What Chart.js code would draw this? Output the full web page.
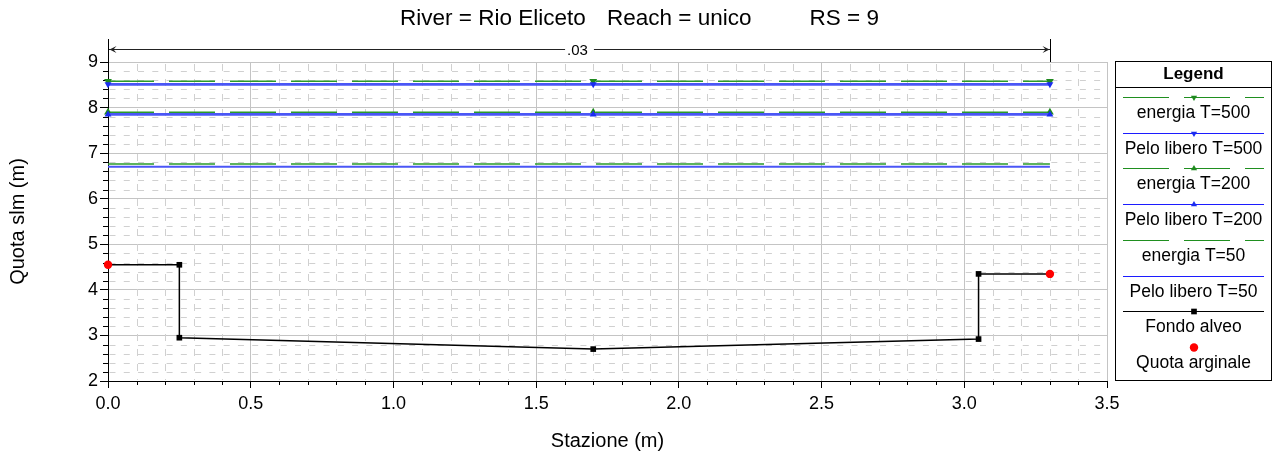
<!DOCTYPE html>
<html>
<head>
<meta charset="utf-8">
<script src="https://cdn.jsdelivr.net/npm/chart.js@4.4.1/dist/chart.umd.min.js"></script>
<style>
  html, body { margin: 0; padding: 0; background: #ffffff; }
  #wrap { position: relative; width: 1276px; height: 459px; }
</style>
</head>
<body>
<div id="wrap"><canvas id="xs"></canvas></div>
<script>
// Cross section RS 9 – Rio Eliceto, reach "unico"

// Ground profile (station, elevation)
const stations = [0, 0.25, 0.25, 1.70, 3.05, 3.05, 3.30];
const bedElevations = [4.55, 4.55, 2.95, 2.70, 2.92, 4.35, 4.35];

// Bank tops
const bankStations = [0, 3.30];
const bankElevations = [4.55, 4.35];

// Water surface and energy grade for each return period
const wsStations = [0, 1.70, 3.30];
const energyT500 = [8.58, 8.58, 8.58];
const wsT500 = [8.51, 8.51, 8.51];
const energyT200 = [7.90, 7.90, 7.90];
const wsT200 = [7.85, 7.85, 7.85];
const energyT50 = [6.76, 6.76, 6.76];
const wsT50 = [6.70, 6.70, 6.70];

// Manning's n over the section
const manningBreaks = [0, 3.30];
const manningLabels = ['.03'];

// Axis ticks
const xTickValues = [0, 0.5, 1.0, 1.5, 2.0, 2.5, 3.0, 3.5];
const xTickLabels = ['0.0', '0.5', '1.0', '1.5', '2.0', '2.5', '3.0', '3.5'];
const yTickValues = [2, 3, 4, 5, 6, 7, 8, 9];
const yTickLabels = ['2', '3', '4', '5', '6', '7', '8', '9'];

const titleParts = ['River = Rio Eliceto', 'Reach = unico', 'RS = 9'];
const legendLabels = ['energia T=500', 'Pelo libero T=500', 'energia T=200', 'Pelo libero T=200',
                      'energia T=50', 'Pelo libero T=50', 'Fondo alveo', 'Quota arginale'];

const FONT = '"Liberation Sans", Arial, Helvetica, sans-serif';
const GREEN = '#2a9a2a';
const BLUE = '#4a56f6';

const pts = (xs, ys) => xs.map((x, i) => ({ x: x, y: ys[i] }));

const lineBase = { showLine: true, tension: 0, clip: false, pointBorderWidth: 0, pointHoverRadius: 0 };

const datasets = [
  { ...lineBase, label: 'Quota arginale', data: pts(bankStations, bankElevations), showLine: false,
    pointStyle: 'circle', pointRadius: 4.2, pointBackgroundColor: '#ff0000', borderColor: '#ff0000' },
  { ...lineBase, label: 'Fondo alveo', data: pts(stations, bedElevations), borderColor: '#000000',
    borderWidth: 1.5, pointStyle: 'rect', pointRadius: [0, 4, 4, 4, 4, 4, 0], pointBackgroundColor: '#000000' },
  { ...lineBase, label: 'Pelo libero T=50', data: pts(wsStations, wsT50), borderColor: BLUE,
    borderWidth: 2, pointRadius: 0 },
  { ...lineBase, label: 'energia T=50', data: pts(wsStations, energyT50), borderColor: GREEN,
    borderWidth: 1.5, borderDash: [46, 15], pointRadius: 0 },
  { ...lineBase, label: 'Pelo libero T=200', data: pts(wsStations, wsT200), borderColor: BLUE,
    borderWidth: 2.6, pointStyle: 'triangle', pointRadius: 4, pointBackgroundColor: '#1a2cf0' },
  { ...lineBase, label: 'energia T=200', data: pts(wsStations, energyT200), borderColor: GREEN,
    borderWidth: 1.5, borderDash: [46, 15], pointStyle: 'triangle', pointRadius: 4.5, pointBackgroundColor: '#1f8a1f' },
  { ...lineBase, label: 'Pelo libero T=500', data: pts(wsStations, wsT500), borderColor: BLUE,
    borderWidth: 2.6, pointStyle: 'triangle', pointRotation: 180, pointRadius: 4, pointBackgroundColor: '#1a2cf0' },
  { ...lineBase, label: 'energia T=500', data: pts(wsStations, energyT500), borderColor: GREEN,
    borderWidth: 1.5, borderDash: [46, 15], pointStyle: 'triangle', pointRotation: 180, pointRadius: 4.5, pointBackgroundColor: '#1f8a1f' }
];

// Light dashed minor grid plus minor tick marks
const minorGrid = {
  id: 'minorGrid',
  beforeDatasetsDraw(chart) {
    const { ctx, chartArea: a, scales: { x, y } } = chart;
    ctx.save();
    ctx.strokeStyle = '#d0d0d0';
    ctx.lineWidth = 1;
    ctx.setLineDash([7, 8]);
    for (let i = 1; i < 35; i++) {
      if (i % 5 === 0) continue;
      const px = Math.round(x.getPixelForValue(i / 10)) + 0.5;
      ctx.beginPath(); ctx.moveTo(px, a.top + 2); ctx.lineTo(px, a.bottom - 1); ctx.stroke();
    }
    ctx.setLineDash([6, 8.27]);
    for (let j = 1; j < 35; j++) {
      if (j % 5 === 0) continue;
      const py = Math.round(y.getPixelForValue(2 + j * 0.2)) + 0.5;
      ctx.beginPath(); ctx.moveTo(a.left + 1.5, py); ctx.lineTo(a.right - 1, py); ctx.stroke();
    }
    ctx.setLineDash([]);
    ctx.strokeStyle = '#000000';
    for (let i = 1; i < 35; i++) {
      if (i % 5 === 0) continue;
      const px = Math.round(x.getPixelForValue(i / 10)) + 0.5;
      ctx.beginPath(); ctx.moveTo(px, a.bottom); ctx.lineTo(px, a.bottom + 4); ctx.stroke();
    }
    for (let j = 1; j < 35; j++) {
      if (j % 5 === 0) continue;
      const py = Math.round(y.getPixelForValue(2 + j * 0.2)) + 0.5;
      ctx.beginPath(); ctx.moveTo(a.left - 5, py); ctx.lineTo(a.left, py); ctx.stroke();
    }
    ctx.restore();
  }
};

// Manning's n span with dimension arrows above the plot
const manningBar = {
  id: 'manningBar',
  afterDatasetsDraw(chart) {
    const { ctx, chartArea: a, scales: { x } } = chart;
    const yy = 49.5;
    ctx.save();
    ctx.strokeStyle = '#222222';
    ctx.fillStyle = '#222222';
    ctx.lineWidth = 1;
    for (let k = 0; k < manningBreaks.length - 1; k++) {
      const x0 = Math.round(x.getPixelForValue(manningBreaks[k])) + 0.5;
      const x1 = Math.round(x.getPixelForValue(manningBreaks[k + 1])) + 0.5;
      ctx.beginPath(); ctx.moveTo(x0, yy); ctx.lineTo(x1, yy); ctx.stroke();
      ctx.beginPath(); ctx.moveTo(x0 + 1, yy); ctx.lineTo(x0 + 8, yy - 3.5); ctx.lineTo(x0 + 5, yy); ctx.lineTo(x0 + 8, yy + 3.5); ctx.closePath(); ctx.fill();
      ctx.beginPath(); ctx.moveTo(x1 - 1, yy); ctx.lineTo(x1 - 8, yy - 3.5); ctx.lineTo(x1 - 5, yy); ctx.lineTo(x1 - 8, yy + 3.5); ctx.closePath(); ctx.fill();
      const mid = (x0 + x1) / 2;
      ctx.font = '15px ' + FONT;
      const w = ctx.measureText(manningLabels[k]).width;
      ctx.fillStyle = '#ffffff';
      ctx.fillRect(mid - w / 2 - 4, yy - 6, w + 8, 12);
      ctx.fillStyle = '#000000';
      ctx.textAlign = 'center';
      ctx.textBaseline = 'middle';
      ctx.fillText(manningLabels[k], mid - 2, yy + 1);
      ctx.fillStyle = '#222222';
    }
    ctx.strokeStyle = '#000000';
    manningBreaks.forEach(v => {
      const px = Math.round(x.getPixelForValue(v)) + 0.5;
      ctx.beginPath(); ctx.moveTo(px, 39); ctx.lineTo(px, a.top); ctx.stroke();
    });
    ctx.restore();
  }
};

function drawMarker(ctx, style, rot, r, cx, cy, color) {
  ctx.fillStyle = color;
  ctx.beginPath();
  if (style === 'triangle') {
    const s = rot === 180 ? -1 : 1;
    ctx.moveTo(cx, cy - s * r);
    ctx.lineTo(cx + r * 0.866, cy + s * r * 0.5);
    ctx.lineTo(cx - r * 0.866, cy + s * r * 0.5);
    ctx.closePath();
  } else if (style === 'rect') {
    ctx.rect(cx - r * 0.707, cy - r * 0.707, r * 1.414, r * 1.414);
  } else if (style === 'circle') {
    ctx.arc(cx, cy, r, 0, Math.PI * 2);
  }
  ctx.fill();
}

// Boxed legend on the right
const boxLegend = {
  id: 'boxLegend',
  afterDraw(chart) {
    const { ctx } = chart;
    const L = 1115.5, R = 1271.5, T = 61.5, B = 380.5;
    const cx = 1193.5;
    ctx.save();
    ctx.strokeStyle = '#000000';
    ctx.lineWidth = 1;
    ctx.strokeRect(L, T, R - L, B - T);
    ctx.beginPath(); ctx.moveTo(L, 87.5); ctx.lineTo(R, 87.5); ctx.stroke();
    ctx.fillStyle = '#000000';
    ctx.textAlign = 'center';
    ctx.textBaseline = 'middle';
    ctx.font = 'bold 17px ' + FONT;
    ctx.fillText('Legend', cx, 74);
    legendLabels.forEach((label, i) => {
      const ds = chart.data.datasets.find(d => d.label === label);
      const ly = Math.round(97 + i * 35.7) + 0.5;
      if (ds.showLine !== false) {
        ctx.strokeStyle = ds.borderColor === BLUE ? '#1c1cff' : (ds.borderColor === GREEN ? '#1f8f1f' : ds.borderColor);
        ctx.lineWidth = 1;
        ctx.setLineDash(ds.borderDash || []);
        ctx.beginPath(); ctx.moveTo(1123, ly); ctx.lineTo(1264, ly); ctx.stroke();
        ctx.setLineDash([]);
      }
      const r = Array.isArray(ds.pointRadius) ? Math.max(...ds.pointRadius) : ds.pointRadius;
      if (r > 0) {
        const col = ds.pointBackgroundColor;
        const mr = ds.pointStyle === 'triangle' ? 3.6 : (ds.pointStyle === 'circle' ? 4.2 : 4);
        drawMarker(ctx, ds.pointStyle, ds.pointRotation || 0, mr, cx + 0.5, ly, col);
      }
      ctx.fillStyle = '#000000';
      ctx.font = '17.5px ' + FONT;
      ctx.fillText(label, cx, ly + 16);
    });
    ctx.restore();
  }
};

// Section heading
const heading = {
  id: 'heading',
  afterDraw(chart) {
    const { ctx } = chart;
    ctx.save();
    ctx.fillStyle = '#000000';
    ctx.font = '22.5px ' + FONT;
    ctx.textBaseline = 'alphabetic';
    ctx.textAlign = 'left';
    ctx.fillText(titleParts[0], 400, 25);
    ctx.fillText(titleParts[1], 607, 25);
    ctx.textAlign = 'right';
    ctx.fillText(titleParts[2], 879, 25);
    ctx.restore();
  }
};

new Chart(document.getElementById('xs'), {
  type: 'scatter',
  data: { datasets: datasets },
  options: {
    responsive: true,
    maintainAspectRatio: false,
    animation: false,
    events: [],
    layout: { padding: { top: 62, right: 169, bottom: 0, left: 0 } },
    plugins: { legend: { display: false }, title: { display: false }, tooltip: { enabled: false } },
    scales: {
      x: {
        type: 'linear', min: 0, max: 3.5,
        afterBuildTicks: s => { s.ticks = xTickValues.map(v => ({ value: v })); },
        afterFit: s => { s.height = 78; },
        ticks: { callback: v => xTickLabels[xTickValues.indexOf(v)], color: '#000000',
                 font: { family: FONT, size: 18 }, padding: 5, maxRotation: 0, autoSkip: false },
        grid: { color: '#c4c4c4', lineWidth: 1, tickColor: '#000000', tickLength: 7, drawTicks: true },
        border: { display: true, color: '#000000', width: 1 },
        title: { display: true, text: 'Stazione (m)', color: '#000000',
                 font: { family: FONT, size: 20 }, padding: { top: 0, bottom: 6 } }
      },
      y: {
        type: 'linear', min: 2, max: 9,
        afterBuildTicks: s => { s.ticks = yTickValues.map(v => ({ value: v })); },
        afterFit: s => { s.width = 108; },
        ticks: { callback: v => yTickLabels[yTickValues.indexOf(v)], color: '#000000',
                 font: { family: FONT, size: 18 }, padding: 2, autoSkip: false },
        grid: { color: '#c4c4c4', lineWidth: 1, tickColor: '#000000', tickLength: 8, drawTicks: true },
        border: { display: true, color: '#000000', width: 1 },
        title: { display: true, text: 'Quota slm (m)', color: '#000000',
                 font: { family: FONT, size: 20 }, padding: { top: 6, bottom: 0 } }
      }
    }
  },
  plugins: [minorGrid, manningBar, boxLegend, heading]
});
</script>
</body>
</html>
